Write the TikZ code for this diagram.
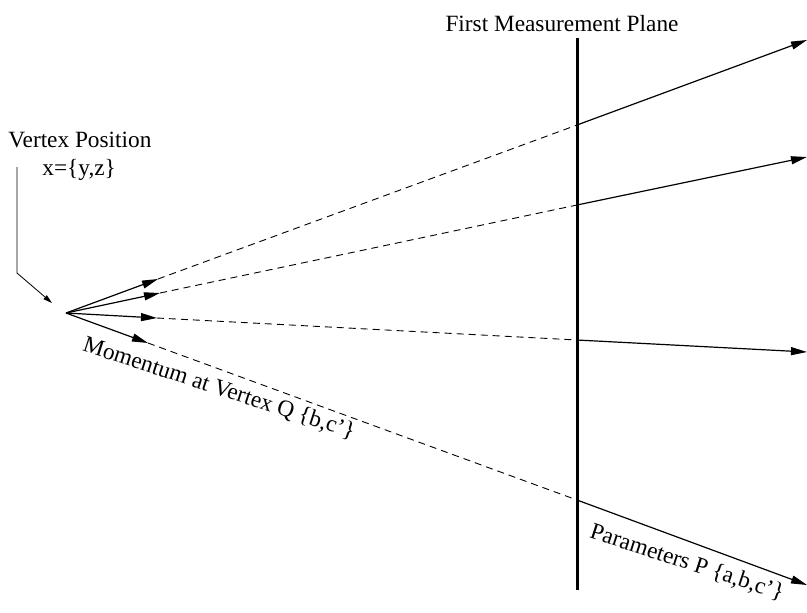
\documentclass[tikz,border=0pt]{standalone}
\usepackage{fontspec}
\setmainfont{Liberation Serif}
\usetikzlibrary{arrows.meta}

\begin{document}
\begin{tikzpicture}[x=0.5pt,y=-0.5pt,
  ray/.style={line width=0.6pt,-{Triangle[length=8pt,width=4pt]}},
  trail/.style={line width=0.45pt,dash pattern=on 3.5pt off 2.5pt},
  lbl/.style={inner sep=0pt,font=\fontsize{11.65}{14}\selectfont}]
\useasboundingbox (0,0) rectangle (807,612);
% vertex, plane
\coordinate (V) at (66,313);
\coordinate (PT) at (577,38);
\coordinate (PB) at (577,590);
\draw[line width=1.5pt] (PT)--(PB);
\node[lbl] (FMP) at (562,24) {First Measurement Plane};
% tracks: momentum at vertex, extrapolation, parameters after the plane
\coordinate (A1) at (158,279);
\coordinate (A2) at (160,293);
\coordinate (A3) at (157,318);
\coordinate (A4) at (148,343);
\coordinate (P1) at (577,125);
\coordinate (P2) at (577,205);
\coordinate (P3) at (577,340);
\coordinate (P4) at (577,500);
\coordinate (E1) at (807,40);
\coordinate (E2) at (807,157);
\coordinate (E3) at (807,352);
\coordinate (E4) at (807,585);
\draw[ray] (V)--(A1);
\draw[ray] (V)--(A2);
\draw[ray] (V)--(A3);
\draw[ray] (V)--(A4);
\draw[trail] (A1)--(P1);
\draw[trail] (A2)--(P2);
\draw[trail] (A3)--(P3);
\draw[trail] (A4)--(P4);
\draw[ray] (P1)--(E1);
\draw[ray] (P2)--(E2);
\draw[ray] (P3)--(E3);
\draw[ray] (P4)--(E4);
% vertex label and pointer
\node[lbl,anchor=west] (VP) at (8,140) {Vertex Position};
\node[lbl,anchor=west] (X) at (42,170) {x=\{y,z\}};
\coordinate (K) at (17,167);
\coordinate (B) at (17,273);
\coordinate (T) at (52,303);
\draw[line width=0.4pt,-{Triangle[length=4.5pt,width=2.5pt]}] (K)--(B)--(T);
\node[lbl,rotate=-18] (Q) at (219,389) {Momentum at Vertex Q \{b,c'\}};
\node[lbl,rotate=-18] (P) at (687,563) {Parameters P \{a,b,c'\}};
\end{tikzpicture}
\end{document}
